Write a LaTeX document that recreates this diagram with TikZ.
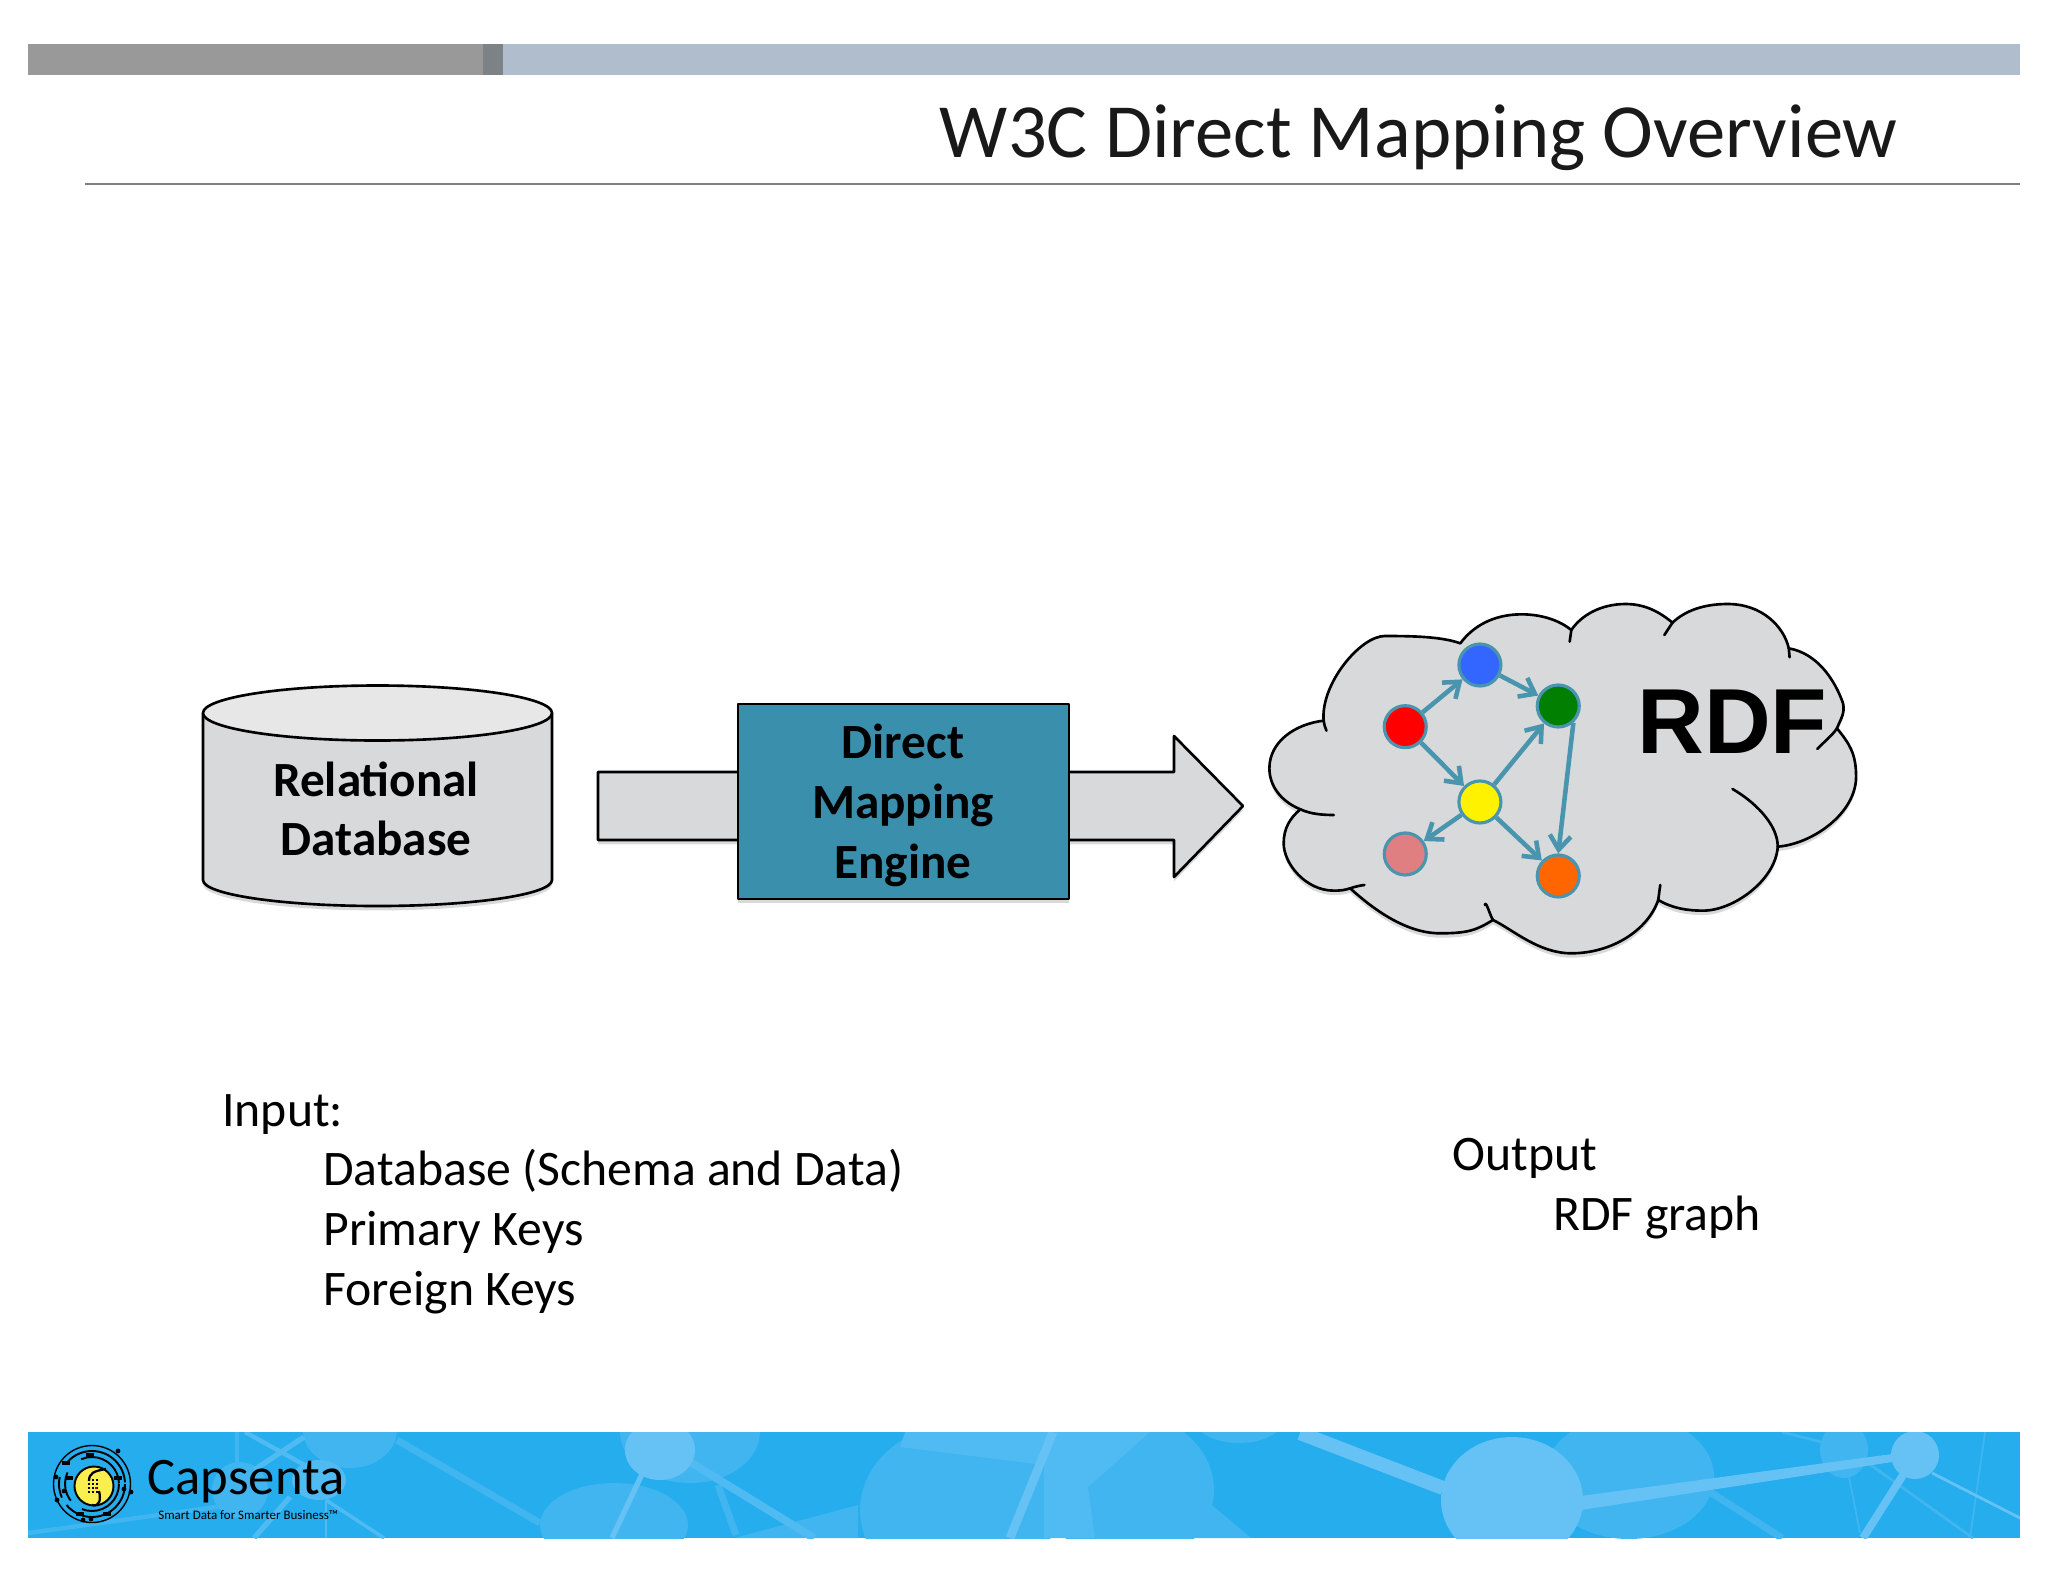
\documentclass[tikz,border=0pt]{standalone}
\usepackage{fontspec}
\setmainfont{Carlito}
\newfontfamily\rdffont{Liberation Sans}
\usetikzlibrary{shadows,arrows.meta}
\definecolor{panelgray}{HTML}{D8D9DB}
\definecolor{paneltop}{HTML}{E7E7E8}
\definecolor{enginefill}{HTML}{3A8FAD}
\definecolor{edgeteal}{HTML}{4A95AE}
\definecolor{barblue}{HTML}{B0BDCC}
\definecolor{bardark}{HTML}{7D8287}
\definecolor{footblue}{HTML}{25ADEE}
\definecolor{footmid}{HTML}{40B5F0}
\definecolor{footlight}{HTML}{50BBF2}
\definecolor{footpale}{HTML}{66C2F5}
\definecolor{logoyellow}{HTML}{FBEE4F}
\tikzset{
softshadow/.style={drop shadow={shadow xshift=0pt,shadow yshift=-2.5pt,opacity=.15,fill=black}},
outline/.style={draw=black,line width=1.5pt,line join=round},
blocklabel/.style={font=\fontsize{28}{34}\selectfont\bfseries,align=center,inner sep=0pt},
bodytext/.style={font=\fontsize{28.3}{34}\selectfont,anchor=base west,inner sep=0pt},
rdfnode/.style={circle,draw=edgeteal,line width=1.8pt,minimum size=.84cm,inner sep=0pt},
rdfedge/.style={->,>={Straight Barb[length=8pt,width=12pt]},draw=edgeteal,line width=2.6pt,line join=round},
}
\begin{document}
\begin{tikzpicture}[x=0.02cm,y=-0.02cm]
\useasboundingbox (0,0) rectangle (2048,1582);
\fill[white] (0,0) rectangle (2048,1582);

\fill[black!40] (28,44) rectangle (483,75);
\fill[bardark] (483,44) rectangle (503,75);
\fill[barblue] (503,44) rectangle (2020,75);
\node[font=\fontsize{43.6}{50}\selectfont,text=black!90,anchor=base east,inner sep=0pt] (title) at (1898,157) {W3C Direct Mapping Overview};
\draw[black!50,line width=1.4pt] (85,184) -- (2020,184);

\path[fill=panelgray,softshadow] (203,713) -- (203,880) .. controls +(0,14.5) and +(-96,0) .. (377.5,906) .. controls +(96,0) and +(0,14.5) .. (552,880) -- (552,713) -- cycle;
\draw[outline] (203,713) -- (203,880) .. controls +(0,14.5) and +(-96,0) .. (377.5,906) .. controls +(96,0) and +(0,14.5) .. (552,880) -- (552,713);
\draw[outline,fill=paneltop] (377.5,713) ellipse [x radius=174.5,y radius=27.5];
\node[blocklabel] (database) at (376,809) {Relational\\Database};

\draw[outline,fill=panelgray,softshadow] (598,772) -- (1174,772) -- (1174,736) -- (1243,806) -- (1174,877) -- (1174,840) -- (598,840) -- cycle;
\node[outline,fill=enginefill,minimum width=6.62cm,minimum height=3.9cm,softshadow] (engine) at (903.5,801.5) {};
\node[blocklabel] (enginetext) at (903,805.5) {Direct\\Mapping\\Engine};

\begin{scope}[shift={(1240,580)},xscale=0.408,yscale=0.3333]
\path[outline,fill=panelgray,drop shadow={shadow xshift=0pt,shadow yshift=-2.5pt,opacity=.15,fill=black}]
 (148,688) .. controls +(-50,-25) and +(0,50) .. (72,565) .. controls +(0,-80) and +(-70,10) .. (205,422)
 .. controls +(-8,-110) and +(-60,0) .. (355,168) .. controls +(70,0) and +(-45,-20) .. (540,190)
 .. controls +(30,-50) and +(-70,0) .. (690,103) .. controls +(55,0) and +(-25,-25) .. (812,150)
 .. controls +(25,-45) and +(-60,0) .. (945,72) .. controls +(50,0) and +(-30,-30) .. (1060,128)
 .. controls +(30,-35) and +(-60,0) .. (1195,72) .. controls +(85,0) and +(-12,-65) .. (1345,205)
 .. controls +(70,15) and +(-20,-70) .. (1478,370) .. controls +(5,30) and +(10,-30) .. (1463,445)
 .. controls +(30,45) and +(0,-70) .. (1510,590) .. controls +(0,110) and +(85,-8) .. (1318,800)
 .. controls +(-5,100) and +(75,0) .. (1135,992) .. controls +(-40,0) and +(35,25) .. (1025,960)
 .. controls +(-25,90) and +(100,0) .. (812,1120) .. controls +(-80,0) and +(50,30) .. (620,1020)
 .. controls +(-40,30) and +(70,0) .. (490,1060) .. controls +(-90,0) and +(45,50) .. (270,925)
 .. controls +(-15,6) and +(15,0) .. (230,932) .. controls +(-70,0) and +(0,60) .. (107,790)
 .. controls +(0,-45) and +(-25,25) .. (148,688) -- cycle;
\draw[outline,line cap=round] (148,688) .. controls +(25,14) and +(-30,0) .. (230,705);
\draw[outline,line cap=round] (205,422) .. controls +(0,10) and +(-3,-10) .. (212,452);
\draw[outline,line cap=round] (812,150) -- (808,185);
\draw[outline,line cap=round] (1060,128) -- (1040,165);
\draw[outline,line cap=round] (1345,205) -- (1347,232);
\draw[outline,line cap=round] (1463,445) .. controls +(-10,20) and +(15,-20) .. (1415,507);
\draw[outline,line cap=round] (1318,800) .. controls +(0,-70) and +(50,35) .. (1207,627);
\draw[outline,line cap=round] (1025,960) -- (1030,915);
\draw[outline,line cap=round] (620,1020) .. controls +(-8,-15) and +(3,-15) .. (600,975);
\draw[outline,line cap=round] (270,925) .. controls +(12,-5) and +(-12,2) .. (305,915);

\node[rdfnode,fill={rgb,255:red,255;green,0;blue,0}] (red) at (405,440) {};
\node[rdfnode,fill={rgb,255:red,51;green,102;blue,255}] (blue) at (588,255) {};
\node[rdfnode,fill={rgb,255:red,0;green,127;blue,0}] (green) at (780,378) {};
\node[rdfnode,fill=yellow] (yellow) at (588,666) {};
\node[rdfnode,fill={rgb,255:red,224;green,127;blue,130}] (pink) at (405,822) {};
\node[rdfnode,fill={rgb,255:red,255;green,102;blue,0}] (orange) at (780,888) {};
\draw[rdfedge] (red) -- (blue);
\draw[rdfedge] (blue) -- (green);
\draw[rdfedge] (red) -- (yellow);
\draw[rdfedge] (yellow) -- (green);
\draw[rdfedge] (green.-48) -- (orange.north);
\draw[rdfedge] (yellow) -- (pink);
\draw[rdfedge] (yellow) -- (orange);
\end{scope}
\node[font=\fontsize{52.6}{60}\selectfont\rdffont\bfseries,anchor=base west,inner sep=0pt] (rdf) at (1637,753) {RDF};

\node[bodytext] (input) at (222,1126) {Input:};
\node[bodytext] (schema) at (323,1185) {Database (Schema and Data)};
\node[bodytext] (primary) at (323,1245) {Primary Keys};
\node[bodytext] (foreign) at (323,1305) {Foreign Keys};
\node[bodytext] (output) at (1452,1170) {Output};
\node[bodytext] (graph) at (1553,1230) {RDF graph};

\begin{scope}
\clip (28,1432) rectangle (2020,1538);
\fill[footblue] (28,1432) rectangle (2020,1538);
\fill[footmid] (350,1430) ellipse [x radius=47,y radius=38];
\fill[footmid] (240,1490) ellipse [x radius=28,y radius=28];
\fill[footmid] (614,1525) ellipse [x radius=74,y radius=42];
\fill[footmid] (690,1432) ellipse [x radius=70,y radius=51];
\fill[footmid] (958,1510) ellipse [x radius=98,y radius=85];
\fill[footmid] (858,1505) -- (734,1538) -- (858,1538) -- cycle;
\fill[footmid] (1130,1490) ellipse [x radius=84,y radius=75];
\fill[footmid] (1000,1500) rectangle (1070,1538);
\fill[footmid] (1200,1495) -- (1251,1538) -- (1195,1538) -- (1179,1520) -- cycle;
\fill[footmid] (1239,1420) ellipse [x radius=44,y radius=23];
\fill[footlight] (905,1432) -- (1150,1432) -- (1088,1487) -- (1095,1538) -- (1044,1538) -- (1044,1465) -- (900,1447) -- cycle;
\fill[footmid] (1629,1477) ellipse [x radius=85,y radius=62];
\fill[footmid] (1844,1450) ellipse [x radius=24,y radius=28];
\draw[footmid,line width=4pt] (397,1440) -- (540,1523);
\draw[footmid,line width=4pt] (718,1485) -- (736,1535);
\draw[footmid,line width=4pt] (1710,1492) -- (1782,1538);
\draw[footmid,line width=1.6pt] (1868,1463) -- (1973,1538);
\draw[footmid,line width=1pt] (1849,1477) -- (1860,1533);
\draw[footmid,line width=1pt] (1985,1432) -- (1970,1538);
\draw[footmid,line width=1.6pt] (1782,1432) -- (1822,1442);
\draw[footmid,line width=2pt] (237,1432) -- (237,1463);
\draw[footmid,line width=2.5pt] (28,1533) -- (245,1503);
\draw[footlight,line width=3pt] (304,1437) -- (254,1470);
\draw[footlight,line width=3pt] (290,1497) -- (254,1538);
\draw[footlight,line width=2.5pt] (245,1432) -- (319,1473);
\draw[footlight,line width=2pt] (326,1500) -- (384,1538);
\draw[footlight,line width=1.6pt] (326,1500) -- (326,1538);
\draw[footlight,line width=4.5pt] (690,1462) -- (814,1538);
\fill[footlight] (319,1480) ellipse [x radius=27,y radius=20];
\fill[footpale] (660,1450) ellipse [x radius=35,y radius=30];
\draw[footpale,line width=3pt] (643,1472) -- (612,1538);
\draw[footpale,line width=5pt] (1053,1432) -- (1010,1538);
\draw[footpale,line width=8pt] (1300,1433) -- (1443,1488);
\fill[footpale] (1581,1496) -- (1892,1454) -- (1892,1462) -- (1581,1510) -- cycle;
\draw[footpale,line width=4.5pt] (1903,1475) -- (1863,1538);
\draw[footpale,line width=1.6pt] (1932,1473) -- (2020,1518);
\fill[footpale] (1512,1500) ellipse [x radius=71,y radius=63];
\fill[footpale] (1915,1455) ellipse [x radius=24,y radius=24];
\end{scope}

\draw[black,line width=.8pt] (92,1484) circle [radius=38.5];
\draw[black,line width=1.1pt,dash pattern=on 46pt off 5pt on 12pt off 8pt] (92,1484) circle [radius=33];
\draw[black,line width=1.1pt,dash pattern=on 30pt off 8pt on 17pt off 11pt] (92,1484) circle [radius=27];
\foreach \dotx/\doty in {118/1451,57/1500,83/1520,91/1519,64/1491,56/1477,124/1489,131/1492}
 \fill[black] (\dotx,\doty) circle [radius=2.4];
\foreach \boxx/\boxy in {90/1455,69/1478,107/1514,66/1463,80/1514,118/1478}
 \fill[black] (\boxx-4,\boxy-2.4) rectangle (\boxx+4,\boxy+2.4);
\draw[black,fill=logoyellow,line width=1.1pt] (94,1486) circle [radius=19.5];
\draw[black,line width=1.3pt] (106,1469) .. controls +(-12,2) and +(0,-8) .. (89,1481);
\draw[black,line width=1.3pt] (99,1491) .. controls +(2,8) and +(8,2) .. (92,1505);
\foreach \gridx in {-4,0,4}
 \foreach \gridy in {-4,0,4,8}
  \fill[black] (93+\gridx-1.3,1484+\gridy-1.3) rectangle +(2.6,2.6);
\fill[red!70!black] (94.7,1486.7) rectangle +(2.6,2.6);
\node[font=\fontsize{30}{34}\selectfont,anchor=base west,inner sep=0pt] (brand) at (147,1494) {Capsenta};
\node[font=\fontsize{7.4}{9}\selectfont,anchor=base west,inner sep=0pt] (tagline) at (158,1519) {Smart Data for Smarter Business™};
\end{tikzpicture}
\end{document}
